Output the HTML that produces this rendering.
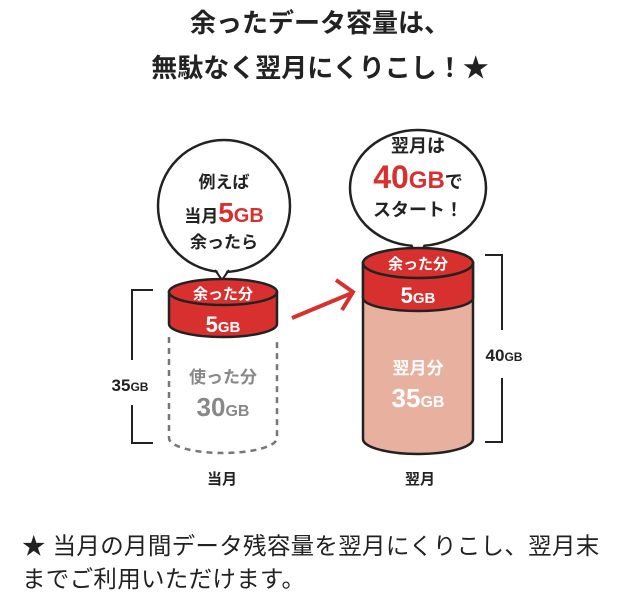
<!DOCTYPE html>
<html><head><meta charset="utf-8"><style>
body{margin:0;width:640px;height:613px;background:#fff;overflow:hidden;font-family:"Liberation Sans","Noto Sans CJK JP",sans-serif}
svg{position:absolute;left:0;top:0}
.f{position:absolute;left:22px;font-size:23.5px;color:#222;line-height:34px;letter-spacing:0.3px;white-space:nowrap}
</style></head><body>
<svg width="640" height="613" viewBox="0 0 640 613" font-family="Liberation Sans, Noto Sans CJK JP, sans-serif" font-weight="bold">
<text x="320" y="32" font-size="26" text-anchor="middle" fill="#222">余ったデータ容量は、</text>
<text x="320" y="77" font-size="26" text-anchor="middle" fill="#222">無駄なく翌月にくりこし！★</text>
<!-- left bubble -->
<ellipse cx="224" cy="206" rx="66" ry="66" fill="#fff" stroke="#222" stroke-width="2.5"/>
<path d="M216,268 L222,280 L228,268" fill="#fff" stroke="none"/>
<path d="M215,270 L222,280 L229,270" fill="none" stroke="#222" stroke-width="2"/>
<text x="224" y="188" font-size="17" text-anchor="middle" fill="#222">例えば</text>
<text x="224" y="222" font-size="17" text-anchor="middle" fill="#222">当月<tspan font-size="28" fill="#d8302f">5</tspan><tspan font-size="20" fill="#d8302f">GB</tspan></text>
<text x="224" y="248" font-size="17" text-anchor="middle" fill="#222">余ったら</text>
<!-- left cylinder dashed -->
<path d="M169,337 L169,438 A54,15 0 0 0 277,438 L277,337" fill="none" stroke="#777" stroke-width="2.5" stroke-dasharray="6,5"/>
<path d="M169,292 L169,324 A54,13 0 0 0 277,324 L277,292 Z" fill="#d8302f" stroke="#222" stroke-width="2.5"/>
<ellipse cx="223" cy="292" rx="54" ry="13" fill="#d8302f" stroke="#222" stroke-width="2.5"/>
<text x="223" y="299" font-size="15" text-anchor="middle" fill="#fff">余った分</text>
<text x="223" y="332" font-size="22" text-anchor="middle" fill="#fff">5<tspan font-size="15">GB</tspan></text>
<text x="223" y="383" font-size="17" text-anchor="middle" fill="#888">使った分</text>
<text x="223" y="416" font-size="26" text-anchor="middle" fill="#888">30<tspan font-size="16">GB</tspan></text>
<path d="M153,290 L132,290 L132,360 M132,405 L132,443 L153,443" fill="none" stroke="#222" stroke-width="2"/>
<text x="130" y="391" font-size="17" text-anchor="middle" fill="#222">35<tspan font-size="12">GB</tspan></text>
<text x="222" y="484" font-size="15" text-anchor="middle" fill="#222">当月</text>
<!-- arrow -->
<path d="M292,318 L352,293 M336,280 L353,292 L342,310" fill="none" stroke="#d8302f" stroke-width="4"/>
<!-- right bubble -->
<ellipse cx="418" cy="188" rx="68" ry="58" fill="#fff" stroke="#222" stroke-width="2.5"/>
<path d="M412,244 L418,256 L424,244" fill="#fff" stroke="none"/>
<path d="M411,245 L418,256 L425,245" fill="none" stroke="#222" stroke-width="2"/>
<text x="418" y="152" font-size="18" text-anchor="middle" fill="#222">翌月は</text>
<text x="418" y="188" font-size="32" text-anchor="middle" fill="#d8302f">40<tspan font-size="24">GB</tspan><tspan font-size="18" fill="#222">で</tspan></text>
<text x="418" y="216" font-size="18" text-anchor="middle" fill="#222">スタート！</text>
<!-- right cylinder -->
<path d="M363,263 L363,439 A55,15 0 0 0 473,439 L473,263 Z" fill="#e8b09e" stroke="#222" stroke-width="2.5"/>
<path d="M363,263 L363,298 A55,13 0 0 0 473,298 L473,263 Z" fill="#d8302f" stroke="#222" stroke-width="2.5"/>
<ellipse cx="418" cy="263" rx="55" ry="15" fill="#d8302f" stroke="#222" stroke-width="2.5"/>
<text x="418" y="269" font-size="15" text-anchor="middle" fill="#fff">余った分</text>
<text x="418" y="303" font-size="22" text-anchor="middle" fill="#fff">5<tspan font-size="15">GB</tspan></text>
<text x="418" y="374" font-size="17" text-anchor="middle" fill="#fff">翌月分</text>
<text x="418" y="407" font-size="26" text-anchor="middle" fill="#fff">35<tspan font-size="16">GB</tspan></text>
<path d="M485,255 L502,255 L502,330 M502,378 L502,442 L485,442" fill="none" stroke="#222" stroke-width="2"/>
<text x="504" y="361" font-size="17" text-anchor="middle" fill="#222">40<tspan font-size="12">GB</tspan></text>
<text x="420" y="484" font-size="15" text-anchor="middle" fill="#222">翌月</text>
</svg>
<div class="f" style="top:529px">★ 当月の月間データ残容量を翌月にくりこし、翌月末</div>
<div class="f" style="top:562px">までご利用いただけます。</div>
</body></html>
